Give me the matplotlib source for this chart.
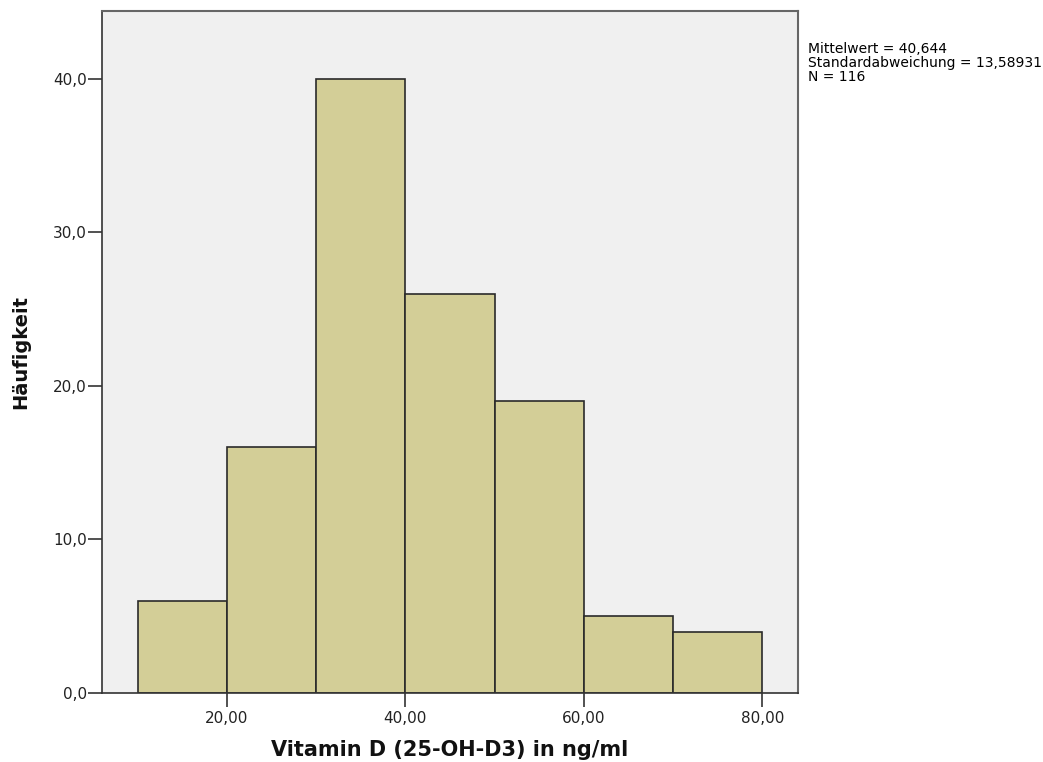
import matplotlib.pyplot as plt
import numpy as np

plt.rcParams["font.family"] = ["DejaVu Sans"]

bin_edges = [10, 20, 30, 40, 50, 60, 70, 80]
counts = [6, 16, 40, 26, 19, 5, 4]
x_ticks = [20, 40, 60, 80]
y_ticks = [0, 10, 20, 30, 40]
stats_lines = ["Mittelwert = 40,644", "Standardabweichung = 13,58931", "N = 116"]

fig = plt.figure(figsize=(10.43, 7.62), dpi=100)
ax = fig.add_axes([0.0978, 0.0906, 0.6672, 0.895])
ax.set_facecolor("#f0f0f0")

edges = np.array(bin_edges)
ax.bar(edges[:-1], counts, width=np.diff(edges), align="edge",
       color="#d3ce97", edgecolor="#2a2a2a", linewidth=1.2, zorder=2)

ax.set_xlim(6, 84)
ax.set_ylim(0, 44.4)
ax.set_xticks(x_ticks)
ax.set_xticklabels([f"{v:.2f}".replace(".", ",") for v in x_ticks])
ax.set_yticks(y_ticks)
ax.set_yticklabels([f"{v:.1f}".replace(".", ",") for v in y_ticks])
ax.tick_params(axis="both", direction="out", width=1.2,
               color="#333333", labelsize=11, labelcolor="#222222")
ax.tick_params(axis="x", length=10, pad=3)
ax.tick_params(axis="y", length=10, pad=1)

for side in ["left", "bottom"]:
    ax.spines[side].set_color("#333333")
    ax.spines[side].set_linewidth(1.2)
for side in ["top", "right"]:
    ax.spines[side].set_color("#666666")
    ax.spines[side].set_linewidth(1.5)

ax.set_xlabel("Vitamin D (25-OH-D3) in ng/ml", fontsize=15, fontweight="bold",
              labelpad=10, color="#111111")
ax.set_ylabel("Häufigkeit", fontsize=14, fontweight="bold", labelpad=16,
              color="#111111")

fig.text(808 / 1043, 1 - 42 / 762, "\n".join(stats_lines), fontsize=10,
         va="top", ha="left", linespacing=1.0, color="#000000")

fig.savefig("out.png", dpi=100)
